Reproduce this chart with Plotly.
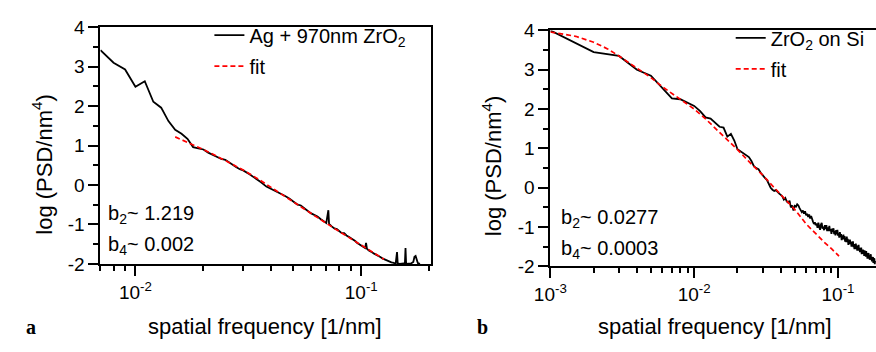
import plotly.graph_objects as go

# ---------------- data: panel a (Ag + 970nm ZrO2) ----------------
freq_a = [0.007, 0.008, 0.009, 0.010, 0.011, 0.012, 0.013, 0.014, 0.015, 0.016,
          0.017, 0.018, 0.019, 0.020, 0.021, 0.022, 0.023, 0.024, 0.025, 0.026,
          0.027, 0.028, 0.029, 0.030, 0.032, 0.034, 0.036, 0.038, 0.040, 0.042,
          0.044, 0.046, 0.048, 0.050, 0.052, 0.054, 0.056, 0.058, 0.060, 0.062,
          0.064, 0.066, 0.068, 0.070, 0.0715, 0.072, 0.074, 0.076, 0.078, 0.080,
          0.082, 0.084, 0.086, 0.088, 0.090, 0.092, 0.094, 0.096, 0.098, 0.100,
          0.102, 0.104, 0.105, 0.106, 0.108, 0.110, 0.112, 0.114, 0.116, 0.118,
          0.120, 0.122, 0.124, 0.126, 0.128, 0.130, 0.132, 0.134, 0.136, 0.138,
          0.140, 0.142, 0.144, 0.145, 0.148, 0.150, 0.152, 0.154, 0.156, 0.157,
          0.158, 0.162, 0.166, 0.170, 0.172, 0.174, 0.176, 0.178, 0.182]
psd_a = [3.42, 3.10, 2.93, 2.49, 2.63, 2.11, 1.96, 1.62, 1.40, 1.30,
         1.17, 0.96, 0.93, 0.90, 0.82, 0.76, 0.70, 0.66, 0.64, 0.57,
         0.50, 0.45, 0.40, 0.37, 0.27, 0.17, 0.07, -0.04, -0.10, -0.15,
         -0.22, -0.28, -0.34, -0.42, -0.49, -0.52, -0.60, -0.66, -0.72, -0.76,
         -0.80, -0.86, -0.90, -0.96, -0.64, -0.99, -1.05, -1.10, -1.12, -1.17,
         -1.22, -1.22, -1.28, -1.31, -1.35, -1.37, -1.42, -1.47, -1.50, -1.54,
         -1.56, -1.60, -1.47, -1.62, -1.66, -1.68, -1.71, -1.74, -1.76, -1.78,
         -1.81, -1.83, -1.86, -1.88, -1.90, -1.92, -1.93, -1.95, -1.96, -1.97,
         -1.98, -1.99, -1.70, -1.99, -2.00, -1.99, -2.00, -1.99, -2.00, -1.60,
         -2.00, -2.00, -1.99, -1.95, -1.82, -1.80, -1.90, -1.98, -2.00]

fit_freq_a = [0.015, 0.017, 0.020, 0.025, 0.030, 0.035, 0.040, 0.045, 0.050,
              0.060, 0.070, 0.080, 0.090, 0.100, 0.110, 0.120, 0.126]
fit_a = [1.22, 1.08, 0.90, 0.62, 0.38, 0.15, -0.07, -0.25, -0.42,
         -0.72, -0.97, -1.18, -1.36, -1.53, -1.68, -1.80, -1.88]

# ---------------- data: panel b (ZrO2 on Si) ----------------
freq_b = [0.001, 0.002, 0.003, 0.004, 0.005, 0.006, 0.007, 0.008, 0.009, 0.010,
          0.011, 0.012, 0.013, 0.014, 0.015, 0.016, 0.017, 0.018, 0.019, 0.020,
          0.021, 0.022, 0.023, 0.024, 0.025, 0.026, 0.027, 0.028, 0.029, 0.030,
          0.031, 0.032, 0.033, 0.034, 0.035, 0.036, 0.037, 0.038, 0.039, 0.040,
          0.041, 0.042, 0.043, 0.044, 0.045, 0.046, 0.047, 0.048, 0.049, 0.050,
          0.051, 0.052, 0.053, 0.054, 0.055, 0.056, 0.057, 0.058, 0.059, 0.060,
          0.061, 0.062, 0.063, 0.064, 0.065, 0.066, 0.067, 0.068, 0.069, 0.070,
          0.071, 0.072, 0.073, 0.074, 0.075, 0.076, 0.077, 0.078, 0.079, 0.080,
          0.081, 0.082, 0.083, 0.084, 0.085, 0.086, 0.087, 0.088, 0.089, 0.090,
          0.091, 0.092, 0.093, 0.094, 0.095, 0.096, 0.097, 0.098, 0.099, 0.100,
          0.101, 0.102, 0.103, 0.104, 0.105, 0.106, 0.107, 0.108, 0.109, 0.110,
          0.111, 0.112, 0.113, 0.114, 0.115, 0.116, 0.117, 0.118, 0.119, 0.120,
          0.121, 0.122, 0.123, 0.124, 0.125, 0.126, 0.127, 0.128, 0.129, 0.130,
          0.131, 0.132, 0.133, 0.134, 0.135, 0.136, 0.137, 0.138, 0.139, 0.140,
          0.141, 0.142, 0.143, 0.144, 0.145, 0.146, 0.147, 0.148, 0.149, 0.150,
          0.151, 0.152, 0.153, 0.154, 0.155, 0.156, 0.157, 0.158, 0.159, 0.160,
          0.161, 0.162, 0.163, 0.164, 0.165, 0.166, 0.167, 0.168, 0.169, 0.170,
          0.171, 0.172, 0.173, 0.174, 0.175, 0.176, 0.177, 0.178, 0.179, 0.180,
          0.181]
psd_b = [4.00, 3.45, 3.35, 3.00, 2.85, 2.55, 2.27, 2.25, 2.17, 2.08,
         1.95, 1.79, 1.76, 1.64, 1.55, 1.53, 1.30, 1.37, 1.20, 0.98,
         0.93, 0.88, 0.82, 0.78, 0.68, 0.55, 0.50, 0.47, 0.38, 0.30,
         0.25, 0.20, 0.10, 0.00, -0.05, -0.08, -0.06, -0.12, -0.15, -0.18,
         -0.22, -0.30, -0.26, -0.35, -0.38, -0.33, -0.50, -0.45, -0.58, -0.46,
         -0.48, -0.42, -0.45, -0.52, -0.56, -0.62, -0.58, -0.66, -0.60, -0.70,
         -0.66, -0.74, -0.68, -0.78, -0.72, -0.82, -0.86, -0.92, -0.88, -0.95,
         -0.91, -1.02, -0.89, -0.99, -1.07, -0.94, -0.89, -1.04, -0.99, -1.08,
         -0.95, -1.05, -0.95, -1.10, -1.01, -1.10, -0.97, -1.10, -1.05, -1.17,
         -1.04, -1.12, -1.03, -1.18, -1.10, -1.21, -1.08, -1.18, -1.07, -1.22,
         -1.16, -1.27, -1.13, -1.25, -1.18, -1.33, -1.22, -1.31, -1.19, -1.31,
         -1.23, -1.37, -1.29, -1.38, -1.24, -1.38, -1.30, -1.45, -1.34, -1.43,
         -1.32, -1.43, -1.37, -1.50, -1.37, -1.45, -1.36, -1.51, -1.43, -1.56,
         -1.43, -1.53, -1.42, -1.56, -1.49, -1.60, -1.47, -1.56, -1.45, -1.60,
         -1.53, -1.64, -1.53, -1.63, -1.52, -1.69, -1.59, -1.68, -1.57, -1.67,
         -1.60, -1.73, -1.59, -1.71, -1.65, -1.75, -1.61, -1.75, -1.66, -1.80,
         -1.67, -1.75, -1.66, -1.80, -1.73, -1.83, -1.70, -1.81, -1.69, -1.83,
         -1.76, -1.87, -1.76, -1.86, -1.76, -1.91, -1.80, -1.91, -1.81, -1.94,
         -1.86]

fit_freq_b = [0.0010, 0.0015, 0.0020, 0.0025, 0.0030, 0.0040, 0.0050, 0.0060,
              0.0070, 0.0080, 0.0100, 0.0120, 0.0150, 0.0200, 0.0250, 0.0300,
              0.0350, 0.0400, 0.0450, 0.0500, 0.0600, 0.0700, 0.0800, 0.0900,
              0.1016]
fit_b = [3.96, 3.85, 3.70, 3.53, 3.35, 3.04, 2.80, 2.57,
         2.40, 2.25, 2.00, 1.75, 1.42, 0.97, 0.60, 0.32,
         0.05, -0.17, -0.38, -0.55, -0.92, -1.18, -1.38, -1.55,
         -1.74]

y_ticks = [-2, -1, 0, 1, 2, 3, 4]
y_ticktext = ["-2", "-1", "0", "1", "2", "3", "4"]
y_minor = [-1.5, -0.5, 0.5, 1.5, 2.5, 3.5]
xa_ticks = [0.01, 0.1]
xa_ticktext = ["10<sup>-2</sup>", "10<sup>-1</sup>"]
xa_minor = [0.007, 0.008, 0.009, 0.02, 0.03, 0.04, 0.05, 0.06, 0.07, 0.08, 0.09, 0.2]
xb_ticks = [0.001, 0.01, 0.1]
xb_ticktext = ["10<sup>-3</sup>", "10<sup>-2</sup>", "10<sup>-1</sup>"]
xb_minor = [0.002, 0.003, 0.004, 0.005, 0.006, 0.007, 0.008, 0.009,
            0.02, 0.03, 0.04, 0.05, 0.06, 0.07, 0.08, 0.09]

FONT = "Liberation Sans, Arial, Helvetica, sans-serif"
W, H = 876, 352

fig = go.Figure()
fig.add_trace(go.Scatter(x=freq_a, y=psd_a, mode="lines", name="Ag + 970nm ZrO<sub>2</sub>",
                         line=dict(color="black", width=1.8), xaxis="x", yaxis="y",
                         legend="legend", legendgroup="a1"))
fig.add_trace(go.Scatter(x=fit_freq_a, y=fit_a, mode="lines", name="fit",
                         line=dict(color="#ff0000", width=1.7, dash="5px,3px"),
                         xaxis="x", yaxis="y", legend="legend", legendgroup="a2"))
fig.add_trace(go.Scatter(x=freq_b, y=psd_b, mode="lines", name="ZrO<sub>2</sub> on Si",
                         line=dict(color="black", width=1.8), xaxis="x2", yaxis="y2",
                         legend="legend2", legendgroup="b1"))
fig.add_trace(go.Scatter(x=fit_freq_b, y=fit_b, mode="lines", name="fit",
                         line=dict(color="#ff0000", width=1.7, dash="5px,3px"),
                         xaxis="x2", yaxis="y2", legend="legend2", legendgroup="b2"))


def xaxis_style(rng, dom, anchor, tv, tt, minor_vals):
    return dict(type="log", range=rng, domain=dom, anchor=anchor,
                showline=True, linecolor="black", linewidth=2, mirror=True,
                ticks="outside", ticklen=10, tickwidth=1.6, tickcolor="black",
                tickmode="array", tickvals=tv, ticktext=tt,
                minor=dict(tickmode="array", tickvals=minor_vals, ticks="outside",
                           ticklen=5, tickwidth=1.6, tickcolor="black", showgrid=False),
                showgrid=False, zeroline=False,
                tickfont=dict(family=FONT, size=19, color="black"))


def yaxis_style(dom, anchor, mirror):
    return dict(range=[-2, 4], domain=dom, anchor=anchor,
                showline=True, linecolor="black", linewidth=2, mirror=mirror,
                ticks="outside", ticklen=10, tickwidth=1.6, tickcolor="black",
                tickmode="array", tickvals=y_ticks, ticktext=y_ticktext,
                minor=dict(tickmode="array", tickvals=y_minor, ticks="outside",
                           ticklen=5, tickwidth=1.6, tickcolor="black", showgrid=False),
                showgrid=False, zeroline=False,
                tickfont=dict(family=FONT, size=19, color="black"))


leg_font = dict(family=FONT, size=20, color="black")
annots = []


def px(x):
    return x / W


def py(y):
    return (H - y) / H


def txt(x, y, s, size=20, xanchor="left", family=FONT, angle=0):
    annots.append(dict(x=px(x), y=py(y), xref="paper", yref="paper", text=s,
                       showarrow=False, xanchor=xanchor, yanchor="middle",
                       textangle=angle, font=dict(family=family, size=size, color="black")))


txt(92, 218, "b<sub>2</sub>~ 1.219")
txt(92, 250, "b<sub>4</sub>~ 0.002")
txt(553, 222, "b<sub>2</sub>~ 0.0277")
txt(553, 255, "b<sub>4</sub>~ 0.0003")
txt(254, 337, "spatial frequency [1/nm]", size=22, xanchor="center")
txt(712, 337, "spatial frequency [1/nm]", size=22, xanchor="center")
txt(27, 164, "log (PSD/nm<sup>4</sup>)", size=22, xanchor="center", angle=-90)
txt(485, 166, "log (PSD/nm<sup>4</sup>)", size=22, xanchor="center", angle=-90)
txt(15, 337, "<b>a</b>", size=20, xanchor="center", family="Liberation Serif, Times New Roman, serif")
txt(475, 337, "<b>b</b>", size=20, xanchor="center", family="Liberation Serif, Times New Roman, serif")

fig.update_layout(
    width=W, height=H,
    margin=dict(l=0, r=0, t=0, b=0),
    paper_bgcolor="white", plot_bgcolor="white",
    font=dict(family=FONT, color="black"),
    xaxis=xaxis_style([-2.155, -0.69], [86 / W, 423 / W], "y", xa_ticks, xa_ticktext, xa_minor),
    yaxis=yaxis_style([(H - 270) / H, (H - 18.3) / H], "x", True),
    xaxis2=xaxis_style([-3, -0.736], [544.3 / W, 1.0], "y2", xb_ticks, xb_ticktext, xb_minor),
    yaxis2=yaxis_style([(H - 272.7) / H, (H - 21.7) / H], "x2", False),
    legend=dict(x=px(197), y=py(6), xanchor="left", yanchor="top",
                bgcolor="rgba(0,0,0,0)", borderwidth=0, font=leg_font,
                tracegroupgap=2, traceorder="grouped"),
    legend2=dict(x=px(728), y=py(9), xanchor="left", yanchor="top",
                 bgcolor="rgba(0,0,0,0)", borderwidth=0, font=leg_font,
                 tracegroupgap=2, traceorder="grouped"),
    annotations=annots,
)

fig.write_html("out.html")
